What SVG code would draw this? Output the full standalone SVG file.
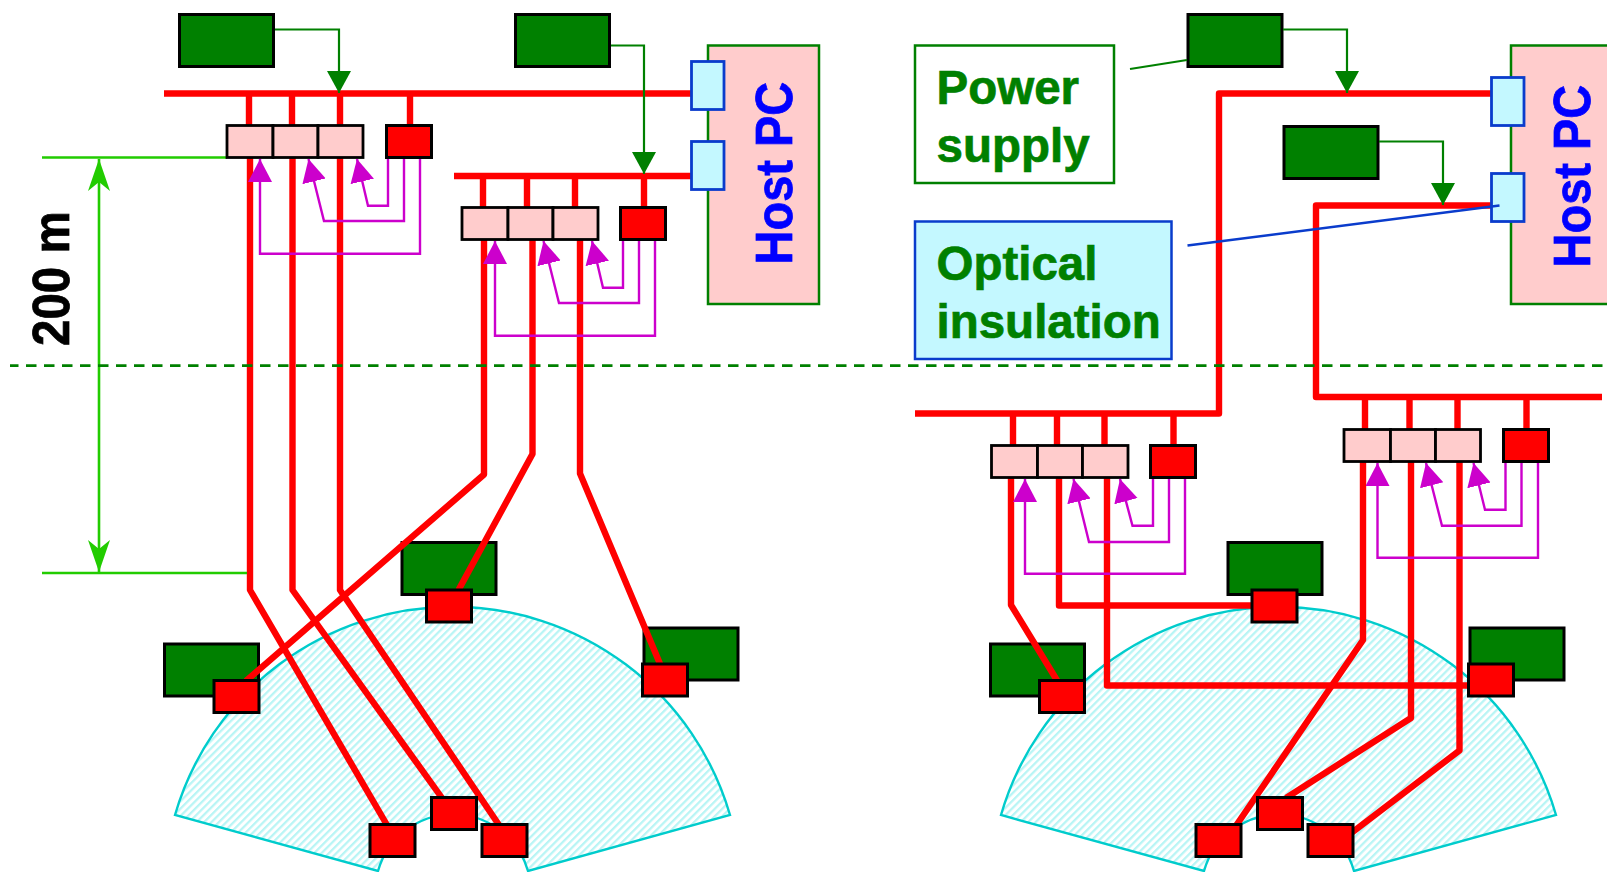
<svg xmlns="http://www.w3.org/2000/svg" width="1607" height="872" viewBox="0 0 1607 872">
<style>
.ps{fill:#008000;stroke:#000;stroke-width:3}
.rd{fill:#f00;stroke:#000;stroke-width:3}
.pk{fill:#fcc;stroke:#000;stroke-width:2.8}
.iso{fill:#c4f8ff;stroke:#0a3ccc;stroke-width:2.8}
.host{fill:#fcc;stroke:#008000;stroke-width:2.5}
.fan{fill:url(#hatch);stroke:#00cccc;stroke-width:2.4}
.w{fill:none;stroke:#f00;stroke-width:6.400;stroke-linejoin:round}
.m{fill:none;stroke:#c0c;stroke-width:2.4;marker-end:url(#am)}
.g{fill:none;stroke:#008000;stroke-width:2.2;marker-end:url(#ag)}
.dim{fill:none;stroke:#22cc00;stroke-width:2.6}
.t{font-family:"Liberation Sans",Arial,sans-serif;font-weight:bold;font-size:47.5px;stroke-width:.7}
.r{font-size:47px}
.tg{fill:#008000;stroke:#008000}
.tb{fill:#00f;stroke:#00f}
.tk{fill:#000;stroke:#000}
</style>
<defs>
<pattern id="hatch" width="7" height="7" patternUnits="userSpaceOnUse" patternTransform="rotate(45) scale(0.75)">
<rect width="7" height="7" fill="#fff"/><rect width="3" height="7" fill="#b8f5f5"/>
</pattern>
<marker id="am" markerUnits="userSpaceOnUse" markerWidth="26" markerHeight="26" refX="23" refY="12" orient="auto"><path d="M0 0L23 12L0 24z" fill="#c0c"/></marker>
<marker id="ag" markerUnits="userSpaceOnUse" markerWidth="26" markerHeight="26" refX="22" refY="12" orient="auto"><path d="M0 0L22 12L0 24z" fill="#008000"/></marker>
<marker id="ad" markerUnits="userSpaceOnUse" markerWidth="34" markerHeight="24" refX="32" refY="11" orient="auto"><path d="M0 0L32 11L0 22L9 11z" fill="#22cc00"/></marker>
</defs>

<g id="fan-left"><path class="fan" d="M175 815A289 289 0 0 1 730 815L528 871A78 78 0 0 0 378 871z"/></g>
<g id="fan-right"><path class="fan" d="M1001 815A289 289 0 0 1 1556 815L1354 871A78 78 0 0 0 1204 871z"/></g>

<g id="host-left"><rect class="host" x="708" y="45.500" width="111" height="258.500"/><text class="t r tb" transform="translate(792 264.500) rotate(-90) scale(1 1.09)">Host PC</text></g>
<g id="host-right"><rect class="host" x="1511" y="45.500" width="112" height="258.500"/><text class="t r tb" transform="translate(1590 267.500) rotate(-90) scale(1 1.09)">Host PC</text></g>

<g id="ps-1"><rect class="ps" x="179.500" y="14.500" width="94" height="52"/></g>
<g id="ps-2"><rect class="ps" x="515.500" y="14.500" width="94" height="52"/></g>
<g id="ps-3"><rect class="ps" x="164.500" y="644" width="94" height="52"/></g>
<g id="ps-4"><rect class="ps" x="402" y="542.500" width="94" height="52"/></g>
<g id="ps-5"><rect class="ps" x="644" y="628" width="94" height="52"/></g>
<g id="ps-6"><rect class="ps" x="1188" y="14.500" width="94" height="52"/></g>
<g id="ps-7"><rect class="ps" x="1284" y="126.500" width="94" height="52"/></g>
<g id="ps-8"><rect class="ps" x="990.500" y="644" width="94" height="52"/></g>
<g id="ps-9"><rect class="ps" x="1228" y="542.500" width="94" height="52"/></g>
<g id="ps-10"><rect class="ps" x="1470" y="628" width="94" height="52"/></g>

<g id="connectors">
<path class="w" d="M164 93.500H691M249 93.500V125M292 93.500V125M340 93.500V125M410 93.500V125"/>
<path class="w" d="M454 176H691M483 176V207M527 176V207M575 176V207M644 176V207"/>
<path class="w" d="M250 158V590L387 825M292.500 158V590L442 798M340 158V590L499 825"/>
<path class="w" d="M484 240V474.500L246 681M532.500 240V454L458.500 590M580 240V473.500L660.500 665"/>
<path class="w" d="M1491 93.500H1219V413.500H915M1013 413.500V446M1057 413.500V446M1104.500 413.500V446M1173.500 413.500V446"/>
<path class="w" d="M1491 205.500H1316V397H1602M1365 397V430M1409.500 397V430M1457.500 397V430M1526.500 397V430"/>
<path class="w" d="M1011 478V605L1058 682M1059 478V605.500H1251M1107 478V685.500H1468"/>
<path class="w" d="M1363 462V640L1236.500 825M1411 462V718L1286 798M1459.500 462V750.500L1352 832.500"/>
<path class="g" d="M275 29.500H339V93"/>
<path class="g" d="M611 45.500H644V174"/>
<path class="g" d="M1283 29.500H1347V93"/>
<path class="g" d="M1379 141.500H1443V205"/>
<path class="g" style="marker-end:none" d="M1130 69L1187 60"/>
<path class="m" d="M388 158V205.700H368L357 159"/>
<path class="m" d="M404 158V221H324L308.500 159"/>
<path class="m" d="M420 158V253.700H260V159"/>
<path class="m" d="M623 240V287.700H603L592 241"/>
<path class="m" d="M639 240V303H559L543.500 241"/>
<path class="m" d="M655 240V335.700H495V241"/>
<path class="m" d="M1153 478V525.700H1132.500L1120 479"/>
<path class="m" d="M1169 478V542H1089L1073.500 479"/>
<path class="m" d="M1185 478V573.700H1025V479"/>
<path class="m" d="M1505.500 462V509.700H1485L1473.500 463"/>
<path class="m" d="M1521.500 462V525.700H1442L1426 463"/>
<path class="m" d="M1538 462V557.700H1377.500V463"/>
<path class="dim" d="M42 157.500H227M42 573H247"/>
<path class="dim" style="marker-end:url(#ad)" d="M99 366V159"/>
<path class="dim" style="marker-end:url(#ad)" d="M99 366V572"/>
<path fill="none" stroke="#008000" stroke-width="2.800" stroke-dasharray="10.500 7.500" stroke-dashoffset="2" d="M10 365.700H1607"/>
</g>

<g id="iso-1"><rect class="iso" x="691.500" y="61.500" width="32.500" height="48"/></g>
<g id="iso-2"><rect class="iso" x="691.500" y="141.500" width="32.500" height="48"/></g>
<g id="iso-3"><rect class="iso" x="1491.500" y="77.500" width="32.500" height="48"/></g>
<g id="iso-4"><rect class="iso" x="1491.500" y="173.500" width="32.500" height="48"/></g>
<path id="optical-leader" fill="none" stroke="#0a3ccc" stroke-width="2.500" d="M1187.500 245.500L1499.500 205.500"/>

<g id="mod-1"><rect class="pk" x="227" y="125.500" width="46" height="32"/><rect class="pk" x="273" y="125.500" width="45" height="32"/><rect class="pk" x="318" y="125.500" width="45" height="32"/></g>
<g id="ctl-1"><rect class="rd" x="386.500" y="125.500" width="45" height="32"/></g>
<g id="mod-2"><rect class="pk" x="462" y="207.500" width="46" height="32"/><rect class="pk" x="508" y="207.500" width="45" height="32"/><rect class="pk" x="553" y="207.500" width="45" height="32"/></g>
<g id="ctl-2"><rect class="rd" x="620.500" y="207.500" width="45" height="32"/></g>
<g id="mod-3"><rect class="pk" x="991.500" y="445.500" width="46" height="32"/><rect class="pk" x="1037.500" y="445.500" width="45" height="32"/><rect class="pk" x="1082.500" y="445.500" width="45.500" height="32"/></g>
<g id="ctl-3"><rect class="rd" x="1150.500" y="445.500" width="45" height="32"/></g>
<g id="mod-4"><rect class="pk" x="1344" y="429.500" width="46.500" height="32"/><rect class="pk" x="1390.500" y="429.500" width="45" height="32"/><rect class="pk" x="1435.500" y="429.500" width="45" height="32"/></g>
<g id="ctl-4"><rect class="rd" x="1503.500" y="429.500" width="45" height="32"/></g>

<g id="det-1"><rect class="rd" x="214" y="680.500" width="45" height="32"/></g>
<g id="det-2"><rect class="rd" x="426.500" y="590" width="45" height="32"/></g>
<g id="det-3"><rect class="rd" x="642.500" y="664" width="45" height="32"/></g>
<g id="det-4"><rect class="rd" x="370" y="824.500" width="45" height="32"/></g>
<g id="det-5"><rect class="rd" x="431.500" y="797.500" width="45" height="32"/></g>
<g id="det-6"><rect class="rd" x="482" y="824.500" width="45" height="32"/></g>
<g id="det-7"><rect class="rd" x="1039.500" y="680.500" width="45" height="32"/></g>
<g id="det-8"><rect class="rd" x="1252" y="590" width="45" height="32"/></g>
<g id="det-9"><rect class="rd" x="1468.500" y="664" width="45" height="32"/></g>
<g id="det-10"><rect class="rd" x="1196" y="824.500" width="45" height="32"/></g>
<g id="det-11"><rect class="rd" x="1257.500" y="797.500" width="45" height="32"/></g>
<g id="det-12"><rect class="rd" x="1308" y="824.500" width="45" height="32"/></g>

<g id="label-power"><rect x="915" y="45.500" width="199" height="137.500" fill="#fff" stroke="#008000" stroke-width="2.500"/><text class="t tg" transform="translate(936.500 104) scale(1 1.02)">Power</text><text class="t tg" transform="translate(936.500 161.500) scale(1 1.02)">supply</text></g>
<g id="label-optical"><rect x="915" y="221.500" width="256.500" height="137.500" fill="#c4f8ff" stroke="#0a3ccc" stroke-width="2.500"/><text class="t tg" transform="translate(936.500 280) scale(1 1.02)">Optical</text><text class="t tg" transform="translate(936.500 337.500) scale(1 1.02)">insulation</text></g>
<g id="label-200m"><text class="t tk" transform="translate(69 346) rotate(-90) scale(1 1.09)">200 m</text></g>
</svg>
